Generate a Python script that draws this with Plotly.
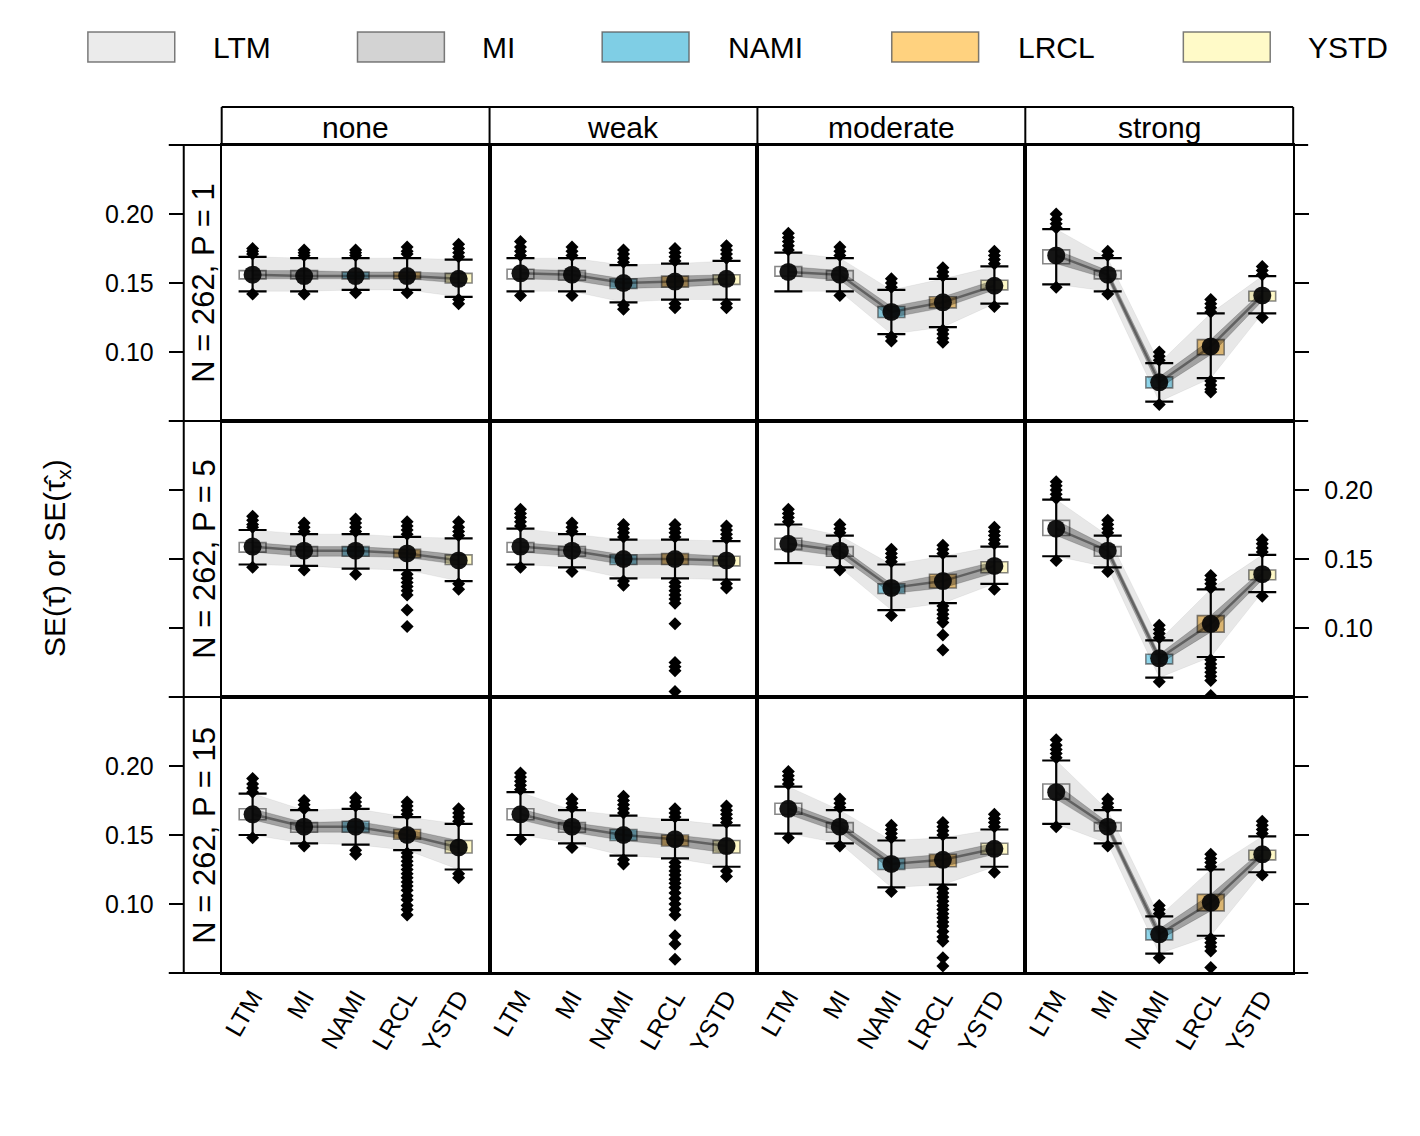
import plotly.graph_objects as go

W, H = 1420, 1136

methods = ["LTM", "MI", "NAMI", "LRCL", "YSTD"]
strengths = ["none", "weak", "moderate", "strong"]
row_labels = ["N = 262, P = 1", "N = 262, P = 5", "N = 262, P = 15"]

# ---- P = 1 (one list per strength: none, weak, moderate, strong) ----
med_p1 = [[0.156, 0.155, 0.155, 0.155, 0.153],
          [0.157, 0.156, 0.150, 0.151, 0.153],
          [0.158, 0.156, 0.129, 0.136, 0.148],
          [0.170, 0.156, 0.078, 0.104, 0.141]]
q1_p1 = [[0.153, 0.153, 0.153, 0.153, 0.150],
         [0.153, 0.152, 0.146, 0.147, 0.149],
         [0.155, 0.152, 0.125, 0.132, 0.145],
         [0.164, 0.153, 0.074, 0.098, 0.137]]
q3_p1 = [[0.159, 0.159, 0.158, 0.158, 0.157],
         [0.160, 0.159, 0.153, 0.155, 0.156],
         [0.162, 0.159, 0.133, 0.140, 0.152],
         [0.174, 0.159, 0.082, 0.109, 0.144]]
lo_p1 = [[0.144, 0.144, 0.145, 0.145, 0.140],
         [0.144, 0.144, 0.136, 0.138, 0.138],
         [0.144, 0.144, 0.113, 0.118, 0.135],
         [0.149, 0.144, 0.064, 0.081, 0.128]]
hi_p1 = [[0.169, 0.168, 0.168, 0.168, 0.167],
         [0.168, 0.168, 0.163, 0.164, 0.166],
         [0.172, 0.168, 0.145, 0.153, 0.162],
         [0.189, 0.168, 0.092, 0.128, 0.155]]
out_p1 = [
    [[0.171, 0.173, 0.175, 0.142], [0.170, 0.172, 0.174, 0.142], [0.170, 0.172, 0.174, 0.143],
     [0.171, 0.173, 0.176, 0.143], [0.169, 0.172, 0.175, 0.178, 0.138, 0.135]],
    [[0.170, 0.173, 0.176, 0.180, 0.141], [0.170, 0.173, 0.176, 0.141], [0.165, 0.168, 0.171, 0.174, 0.134, 0.131],
     [0.166, 0.169, 0.172, 0.175, 0.135, 0.132], [0.168, 0.171, 0.174, 0.177, 0.135, 0.132]],
    [[0.174, 0.177, 0.180, 0.183, 0.186], [0.170, 0.173, 0.176, 0.141], [0.147, 0.150, 0.153, 0.111, 0.108],
     [0.155, 0.158, 0.161, 0.116, 0.113, 0.110, 0.107], [0.164, 0.167, 0.170, 0.173, 0.133]],
    [[0.190, 0.193, 0.196, 0.200, 0.147], [0.170, 0.173, 0.142], [0.094, 0.097, 0.100, 0.062],
     [0.129, 0.132, 0.135, 0.138, 0.079, 0.076, 0.073, 0.071], [0.156, 0.159, 0.162, 0.125]],
]

# ---- P = 5 ----
med_p5 = [[0.159, 0.156, 0.156, 0.154, 0.149],
          [0.159, 0.156, 0.150, 0.150, 0.149],
          [0.161, 0.156, 0.129, 0.134, 0.145],
          [0.172, 0.156, 0.078, 0.103, 0.139]]
q1_p5 = [[0.155, 0.152, 0.152, 0.151, 0.146],
         [0.155, 0.152, 0.146, 0.146, 0.145],
         [0.157, 0.152, 0.125, 0.129, 0.140],
         [0.167, 0.152, 0.074, 0.097, 0.135]]
q3_p5 = [[0.162, 0.159, 0.159, 0.157, 0.153],
         [0.162, 0.159, 0.153, 0.154, 0.152],
         [0.165, 0.159, 0.132, 0.139, 0.148],
         [0.178, 0.159, 0.081, 0.109, 0.142]]
lo_p5 = [[0.146, 0.145, 0.143, 0.142, 0.134],
         [0.146, 0.144, 0.136, 0.136, 0.135],
         [0.147, 0.144, 0.113, 0.118, 0.132],
         [0.152, 0.144, 0.064, 0.079, 0.126]]
hi_p5 = [[0.171, 0.168, 0.168, 0.166, 0.165],
         [0.172, 0.168, 0.164, 0.164, 0.163],
         [0.175, 0.167, 0.146, 0.152, 0.159],
         [0.193, 0.167, 0.091, 0.128, 0.153]]
out_p5 = [
    [[0.173, 0.175, 0.178, 0.181, 0.144], [0.170, 0.173, 0.176, 0.142], [0.170, 0.173, 0.176, 0.179, 0.139],
     [0.168, 0.171, 0.174, 0.177, 0.139, 0.136, 0.133, 0.130, 0.127, 0.124, 0.113, 0.101],
     [0.167, 0.170, 0.173, 0.177, 0.132, 0.128]],
    [[0.174, 0.177, 0.180, 0.183, 0.186, 0.144], [0.170, 0.173, 0.176, 0.141], [0.166, 0.169, 0.172, 0.175, 0.134, 0.131],
     [0.166, 0.169, 0.172, 0.175, 0.133, 0.130, 0.127, 0.124, 0.121, 0.118, 0.103, 0.075, 0.072, 0.069, 0.054],
     [0.165, 0.168, 0.171, 0.174, 0.132, 0.129]],
    [[0.177, 0.180, 0.183, 0.186], [0.169, 0.172, 0.175, 0.142], [0.148, 0.151, 0.154, 0.157, 0.109],
     [0.154, 0.157, 0.160, 0.116, 0.113, 0.110, 0.107, 0.104, 0.095, 0.084],
     [0.161, 0.164, 0.167, 0.170, 0.173, 0.128]],
    [[0.194, 0.197, 0.200, 0.203, 0.206, 0.149], [0.169, 0.172, 0.175, 0.178, 0.141], [0.093, 0.096, 0.099, 0.102, 0.061],
     [0.129, 0.132, 0.135, 0.138, 0.077, 0.074, 0.071, 0.068, 0.065, 0.062, 0.051],
     [0.155, 0.158, 0.161, 0.164, 0.123]],
]

# ---- P = 15 ----
med_p15 = [[0.165, 0.156, 0.156, 0.150, 0.141],
           [0.165, 0.156, 0.150, 0.147, 0.142],
           [0.169, 0.156, 0.129, 0.132, 0.140],
           [0.181, 0.156, 0.078, 0.101, 0.136]]
q1_p15 = [[0.161, 0.152, 0.152, 0.147, 0.137],
          [0.161, 0.152, 0.146, 0.142, 0.137],
          [0.165, 0.152, 0.125, 0.127, 0.136],
          [0.176, 0.153, 0.074, 0.095, 0.132]]
q3_p15 = [[0.169, 0.159, 0.160, 0.154, 0.146],
          [0.169, 0.159, 0.154, 0.150, 0.146],
          [0.173, 0.159, 0.133, 0.136, 0.144],
          [0.187, 0.159, 0.082, 0.107, 0.139]]
lo_p15 = [[0.150, 0.144, 0.143, 0.139, 0.125],
          [0.150, 0.144, 0.135, 0.133, 0.127],
          [0.151, 0.144, 0.112, 0.114, 0.127],
          [0.158, 0.144, 0.064, 0.077, 0.123]]
hi_p15 = [[0.180, 0.168, 0.169, 0.163, 0.158],
          [0.181, 0.168, 0.164, 0.161, 0.157],
          [0.185, 0.168, 0.146, 0.148, 0.154],
          [0.204, 0.168, 0.091, 0.125, 0.149]]
out_p15 = [
    [[0.181, 0.184, 0.187, 0.191, 0.148], [0.169, 0.172, 0.175, 0.142], [0.171, 0.174, 0.177, 0.139, 0.136],
     [0.165, 0.168, 0.171, 0.174, 0.137, 0.134, 0.131, 0.128, 0.125, 0.122, 0.119, 0.116, 0.113, 0.110,
      0.106, 0.103, 0.099, 0.096, 0.092],
     [0.160, 0.163, 0.166, 0.169, 0.122, 0.119]],
    [[0.183, 0.186, 0.189, 0.192, 0.195, 0.147], [0.170, 0.173, 0.176, 0.141],
     [0.166, 0.169, 0.172, 0.175, 0.178, 0.132, 0.129],
     [0.163, 0.166, 0.169, 0.130, 0.127, 0.124, 0.121, 0.118, 0.115, 0.112, 0.108, 0.104, 0.100, 0.096,
      0.092, 0.077, 0.071, 0.060],
     [0.159, 0.162, 0.165, 0.168, 0.171, 0.124, 0.120]],
    [[0.187, 0.190, 0.193, 0.196, 0.148], [0.170, 0.173, 0.176, 0.142], [0.148, 0.151, 0.154, 0.157, 0.109],
     [0.150, 0.153, 0.156, 0.159, 0.111, 0.108, 0.105, 0.102, 0.099, 0.096, 0.093, 0.090, 0.087, 0.084,
      0.080, 0.076, 0.073, 0.061, 0.055],
     [0.156, 0.159, 0.162, 0.165, 0.123]],
    [[0.206, 0.209, 0.212, 0.215, 0.219, 0.156], [0.170, 0.173, 0.176, 0.142], [0.093, 0.096, 0.099, 0.061],
     [0.127, 0.130, 0.133, 0.136, 0.075, 0.072, 0.069, 0.066, 0.054], [0.151, 0.154, 0.157, 0.160, 0.121]],
]

legend_fill = ["#EBEBEB", "#D3D3D3", "#7FCEE5", "#FFD27F", "#FFFAC8"]
box_fill = ["rgba(255,255,255,0.75)", "rgba(215,215,215,0.7)", "rgba(95,195,225,0.7)",
            "rgba(235,175,70,0.7)", "rgba(255,248,185,0.8)"]

rows = [(med_p1, q1_p1, q3_p1, lo_p1, hi_p1, out_p1),
        (med_p5, q1_p5, q3_p5, lo_p5, hi_p5, out_p5),
        (med_p15, q1_p15, q3_p15, lo_p15, hi_p15, out_p15)]

FONT = "Liberation Sans, Arial, Helvetica, sans-serif"
col_x = [220, 488.25, 756.5, 1024.75, 1293]
row_y = [145, 421, 697, 973]
YR = [0.05, 0.25]


def px(x):
    return x / W


def py(y):
    return 1 - y / H


def ax(k, letter):
    return letter if k == 1 else f"{letter}{k}"


fig = go.Figure()
layout = {}

for r, (med, q1, q3, lo, hi, out) in enumerate(rows):
    for c in range(4):
        k = r * 4 + c + 1
        xa, ya = ax(k, "x"), ax(k, "y")
        layout["xaxis" if k == 1 else f"xaxis{k}"] = dict(
            domain=[px(col_x[c]), px(col_x[c + 1])], anchor=ya,
            type="category", categoryorder="array", categoryarray=methods,
            range=[-0.6, 4.6], showline=True, mirror=True, linecolor="black", linewidth=2,
            showgrid=False, zeroline=False, ticks="",
            showticklabels=(r == 2), tickangle=-60, ticklabelstandoff=-2,
            tickfont=dict(size=25, color="black", family=FONT))
        layout["yaxis" if k == 1 else f"yaxis{k}"] = dict(
            domain=[py(row_y[r + 1]), py(row_y[r])], anchor=xa, range=YR,
            showline=True, mirror=True, linecolor="black", linewidth=2,
            showgrid=False, zeroline=False, ticks="", showticklabels=False)

        common = dict(xaxis=xa, yaxis=ya, showlegend=False, hoverinfo="skip")
        # spaghetti band: whisker range, IQR, medians
        fig.add_trace(go.Scatter(x=methods, y=lo[c], mode="lines",
                                 line=dict(width=1, color="rgba(0,0,0,0.05)"), **common))
        fig.add_trace(go.Scatter(x=methods, y=hi[c], mode="lines",
                                 line=dict(width=1, color="rgba(0,0,0,0.05)"),
                                 fill="tonexty", fillcolor="rgba(0,0,0,0.09)", **common))
        fig.add_trace(go.Scatter(x=methods, y=q1[c], mode="lines",
                                 line=dict(width=1, color="rgba(0,0,0,0.15)"), **common))
        fig.add_trace(go.Scatter(x=methods, y=q3[c], mode="lines",
                                 line=dict(width=1, color="rgba(0,0,0,0.15)"),
                                 fill="tonexty", fillcolor="rgba(0,0,0,0.3)", **common))
        fig.add_trace(go.Scatter(x=methods, y=med[c], mode="lines",
                                 line=dict(width=2.5, color="rgba(0,0,0,0.4)"), **common))
        # boxes
        fig.add_trace(go.Bar(x=methods, y=[b - a for a, b in zip(q1[c], q3[c])], base=q1[c],
                             width=0.52, marker=dict(color=box_fill,
                                                     line=dict(color="rgba(70,70,70,0.65)", width=1.6)),
                             **common))
        # outliers
        ox, oy = [], []
        for m, vals in zip(methods, out[c]):
            ox += [m] * len(vals)
            oy += vals
        fig.add_trace(go.Scatter(x=ox, y=oy, mode="markers",
                                 marker=dict(symbol="diamond", size=10, color="black", line=dict(width=0)),
                                 **common))
        # whiskers + centre dot
        fig.add_trace(go.Scatter(
            x=methods, y=med[c], mode="markers",
            marker=dict(size=18, color="rgba(8,8,8,0.95)", line=dict(width=0)),
            error_y=dict(type="data", symmetric=False,
                         array=[h - m for h, m in zip(hi[c], med[c])],
                         arrayminus=[m - l for m, l in zip(med[c], lo[c])],
                         color="black", thickness=2.2, width=14),
            **common))

    # outer tick axes (left and right) for this row
    for side, base_c, num in (("left", 0, 13 + r), ("right", 3, 16 + r)):
        kb = r * 4 + base_c + 1
        show = (r != 1) if side == "left" else (r == 1)
        layout[f"yaxis{num}"] = dict(
            overlaying=ax(kb, "y"), anchor="free", side=side,
            position=px(182) if side == "left" else px(1293),
            range=YR, ticks="outside", ticklen=15, tickwidth=2, tickcolor="black",
            tickvals=[0.10, 0.15, 0.20], ticktext=["0.10", "0.15", "0.20"],
            showticklabels=show, ticklabelstandoff=10,
            tickfont=dict(size=25, color="black", family=FONT),
            showline=False, showgrid=False, zeroline=False)
        fig.add_trace(go.Scatter(x=[methods[0]], y=[None], mode="markers",
                                 xaxis=ax(kb, "x"), yaxis=f"y{num}",
                                 showlegend=False, hoverinfo="skip"))

shapes = []
line_k = dict(color="black", width=2)
for y in row_y:
    shapes.append(dict(type="line", xref="paper", yref="paper", x0=px(167), x1=px(1308),
                       y0=py(y), y1=py(y), line=line_k))
shapes.append(dict(type="line", xref="paper", yref="paper", x0=px(182), x1=px(182),
                   y0=py(row_y[0]), y1=py(row_y[-1]), line=line_k))
shapes.append(dict(type="line", xref="paper", yref="paper", x0=px(220), x1=px(1293),
                   y0=py(107), y1=py(107), line=line_k))
for x in col_x:
    shapes.append(dict(type="line", xref="paper", yref="paper", x0=px(x), x1=px(x),
                       y0=py(107), y1=py(145), line=line_k))

centre = dict(xref="paper", yref="paper", showarrow=False, xanchor="center", yanchor="middle")
annotations = []
for c, s in enumerate(strengths):
    annotations.append(dict(text=s, x=px((col_x[c] + col_x[c + 1]) / 2), y=py(127),
                            font=dict(size=30, color="black", family=FONT), **centre))
for r, lab in enumerate(row_labels):
    annotations.append(dict(text=lab, x=px(202), y=py((row_y[r] + row_y[r + 1]) / 2),
                            textangle=-90, font=dict(size=31, color="black", family=FONT), **centre))
annotations.append(dict(text="SE(τ\u0302) or SE(τ\u0302<sub>x</sub>)", x=px(54), y=py(558),
                        textangle=-90, font=dict(size=30, color="black", family=FONT), **centre))

# legend
leg_rect_x = [86, 356, 601, 891, 1183]
leg_text_x = [209, 479, 725, 1015, 1306]
for m, col, rx, tx in zip(methods, legend_fill, leg_rect_x, leg_text_x):
    shapes.append(dict(type="rect", xref="paper", yref="paper", x0=px(rx), x1=px(rx + 87),
                       y0=py(62), y1=py(32), fillcolor=col,
                       line=dict(color="rgba(90,90,90,0.8)", width=1.5)))
    annotations.append(dict(text=m, x=px(tx), y=py(47), xref="paper", yref="paper",
                            xanchor="left", yanchor="middle", showarrow=False,
                            font=dict(size=30, color="black", family=FONT)))

fig.update_layout(
    width=W, height=H, margin=dict(l=0, r=0, t=0, b=0),
    paper_bgcolor="white", plot_bgcolor="rgba(0,0,0,0)",
    showlegend=False, barmode="overlay", shapes=shapes, annotations=annotations,
    font=dict(family=FONT, color="black"),
    **layout)

fig.write_html("out.html", config={"displayModeBar": False},
               post_script="document.body.style.margin='0px';")
